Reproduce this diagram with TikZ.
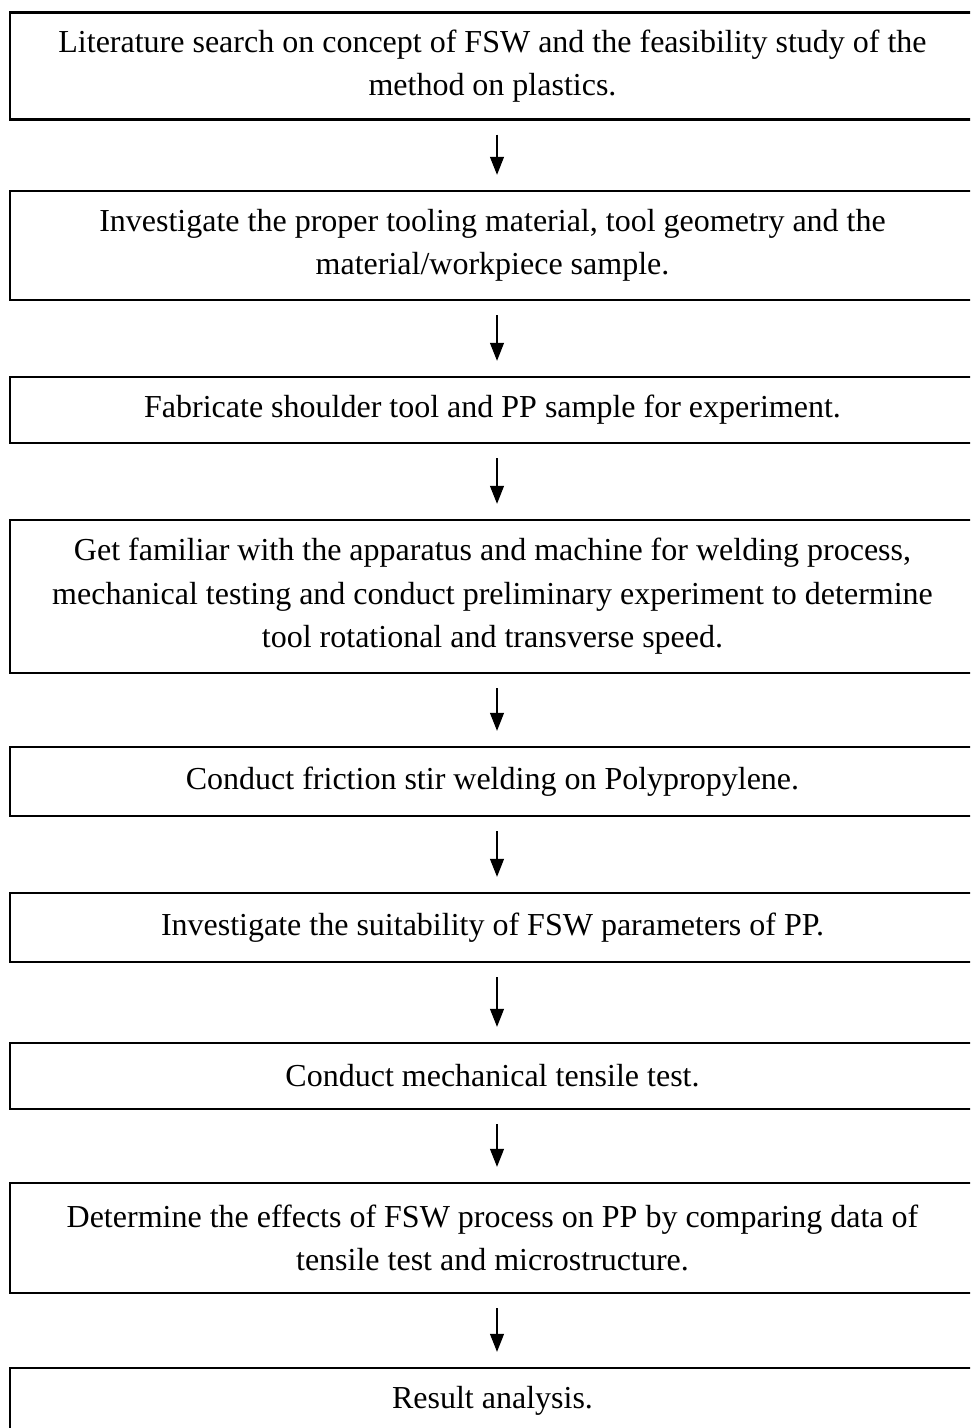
\documentclass[tikz,border=0pt]{standalone}
\usepackage{fontspec}
\setmainfont{Liberation Serif}
\usetikzlibrary{arrows.meta}

\begin{document}
\begin{tikzpicture}[x=0.5pt,y=-0.5pt,
    stepbox/.style={draw,line width=1.2pt,minimum width=482.5pt,inner sep=0pt,
      align=center,font=\fontsize{16}{21.75}\selectfont},
    flow/.style={-{Triangle[length=9pt,width=7pt]},line width=0.6pt,
      shorten <=7pt,shorten >=7.5pt}]
  \fill[white] (0,0) rectangle (970,1428);
  \clip (0,0) rectangle (970,1428);
  % steps of the work
  \node[stepbox,minimum height=53.5pt] (lit) at (492.5,66)
    {Literature search on concept of FSW and the feasibility study of the\\ method on plastics.};
  \node[stepbox,minimum height=54.5pt] (tooling) at (492.5,245.5)
    {Investigate the proper tooling material, tool geometry and the\\ material/workpiece sample.};
  \node[stepbox,minimum height=33pt] (fab) at (492.5,410)
    {Fabricate shoulder tool and PP sample for experiment.};
  \node[stepbox,minimum height=76.5pt] (prelim) at (492.5,596.5)
    {Get familiar with the apparatus and machine for welding process,\\ mechanical testing and conduct preliminary experiment to determine\\ tool rotational and transverse speed.};
  \node[stepbox,minimum height=34.5pt] (weld) at (492.5,781.5)
    {Conduct friction stir welding on Polypropylene.};
  \node[stepbox,minimum height=34.5pt] (param) at (492.5,927.5)
    {Investigate the suitability of FSW parameters of PP.};
  \node[stepbox,minimum height=33pt] (tensile) at (492.5,1076)
    {Conduct mechanical tensile test.};
  \node[stepbox,minimum height=55pt] (effects) at (492.5,1238)
    {Determine the effects of FSW process on PP by comparing data of\\ tensile test and microstructure.};
  \node[stepbox,minimum height=33pt] (result) at (492.5,1401)
    {Result analysis.};
  % arrows
  \coordinate (ax) at (497,0);
  \foreach \a/\b in {lit/tooling,tooling/fab,fab/prelim,prelim/weld,weld/param,
      param/tensile,tensile/effects,effects/result}
    \draw[flow] (\a.south -| ax) -- (\b.north -| ax);
\end{tikzpicture}
\end{document}
